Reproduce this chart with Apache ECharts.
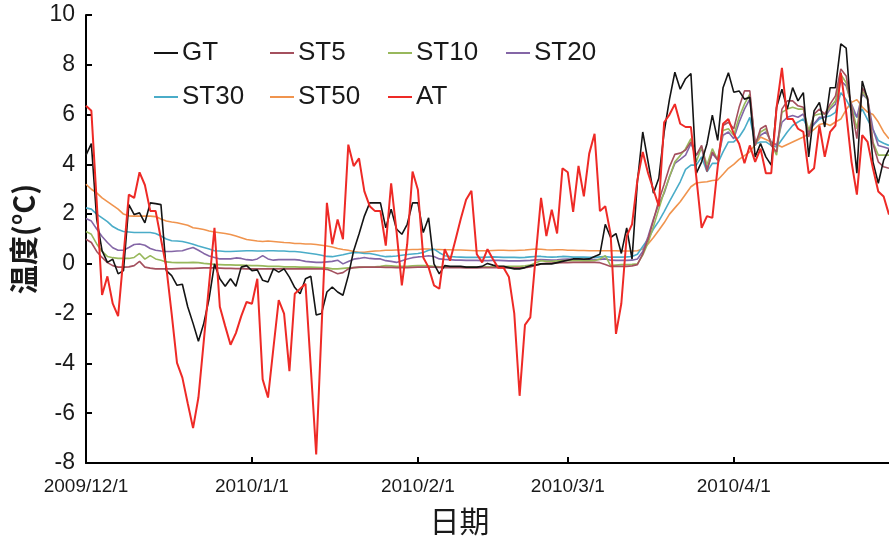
<!DOCTYPE html>
<html>
<head>
<meta charset="utf-8">
<script src="https://cdn.jsdelivr.net/npm/echarts@6/dist/echarts.min.js"></script>
<style>
html,body{margin:0;padding:0;background:#fff;}
#chart{width:889px;height:541px;}
</style>
</head>
<body>
<div id="chart"></div>
<script>
// Daily series from 2009/12/1 to 2010/4/30 (151 days)
const startYear = 2009, startMonth = 12, startDay = 1, dayCount = 151;
const seriesNames = ['GT', 'ST5', 'ST10', 'ST20', 'ST30', 'ST50', 'AT'];
const yTicks = {min: -8, max: 10, step: 2};

const GT = [4.37,4.83,1.8,0.53,0.06,0.19,-0.4,-0.27,2.38,1.98,2.05,1.65,2.45,2.42,2.38,-0.27,-0.47,-0.86,-0.82,-1.72,
-2.39,-3.11,-2.39,-1.39,0.0,-0.6,-0.9,-0.6,-0.9,-0.13,-0.07,-0.27,-0.24,-0.66,-0.73,-0.2,-0.33,-0.2,-0.53,-0.95,
-1.2,-0.6,-0.5,-2.05,-1.99,-1.13,-0.93,-1.13,-1.26,-0.47,0.53,1.2,1.92,2.45,2.45,2.45,1.45,2.2,1.4,1.19,
1.59,2.45,2.45,1.26,1.85,0.0,-0.4,-0.07,-0.1,-0.1,-0.1,-0.13,-0.13,-0.13,-0.1,0.02,-0.05,-0.1,-0.1,-0.15,
-0.2,-0.2,-0.15,-0.07,-0.05,0.0,0.0,0.0,0.05,0.1,0.15,0.2,0.2,0.19,0.2,0.3,0.39,1.59,1.06,1.22,
0.42,1.45,0.19,3.3,5.3,4.1,2.84,3.44,5.3,6.62,7.7,7.02,7.44,7.65,3.64,4.1,4.83,5.98,4.96,7.08,
7.68,6.9,6.95,6.62,6.69,4.3,4.83,4.3,3.97,6.29,7.02,6.22,7.08,6.55,6.88,4.3,6.15,6.49,5.5,7.08,
7.08,8.84,8.67,5.82,3.64,7.35,6.62,4.1,3.24,4.17,4.6];

const ST5 = [0.99,0.86,0.5,0.26,0.05,-0.07,-0.13,-0.13,-0.12,-0.07,0.1,-0.13,-0.17,-0.2,-0.2,-0.2,-0.2,-0.19,-0.18,-0.18,
-0.18,-0.17,-0.16,-0.16,-0.16,-0.17,-0.18,-0.18,-0.19,-0.19,-0.2,-0.2,-0.2,-0.2,-0.2,-0.2,-0.2,-0.2,-0.2,-0.2,
-0.2,-0.2,-0.2,-0.2,-0.2,-0.22,-0.3,-0.4,-0.35,-0.2,-0.15,-0.13,-0.13,-0.13,-0.13,-0.13,-0.14,-0.14,-0.15,-0.15,
-0.15,-0.14,-0.13,-0.13,-0.13,-0.13,-0.14,-0.15,-0.15,-0.15,-0.15,-0.16,-0.16,-0.16,-0.15,-0.15,-0.15,-0.15,-0.16,-0.16,
-0.16,-0.16,-0.15,-0.12,-0.05,0.0,0.02,0.03,0.04,0.05,0.05,0.06,0.06,0.06,0.06,0.06,0.05,-0.02,-0.1,-0.1,
-0.1,-0.1,-0.08,-0.03,0.4,1.0,1.75,2.55,3.2,3.9,4.4,4.45,4.57,4.9,4.37,4.76,3.71,4.5,4.17,5.56,
5.69,5.43,6.29,6.95,6.95,4.76,5.43,5.56,4.76,4.5,6.22,6.55,6.55,6.35,6.29,5.1,6.02,6.22,6.02,6.42,
6.75,7.83,7.55,6.29,5.03,7.08,6.69,4.83,4.1,3.9,3.84];

const ST10 = [1.3,1.19,0.8,0.5,0.3,0.25,0.22,0.22,0.22,0.26,0.42,0.19,0.33,0.2,0.15,0.08,0.06,0.05,0.05,0.05,
0.06,0.05,0.02,0.0,-0.02,-0.03,-0.04,-0.04,-0.05,-0.05,-0.06,-0.07,-0.07,-0.08,-0.1,-0.1,-0.1,-0.12,-0.12,-0.12,
-0.13,-0.13,-0.13,-0.14,-0.15,-0.16,-0.2,-0.2,-0.18,-0.16,-0.15,-0.14,-0.13,-0.13,-0.12,-0.1,-0.07,-0.08,-0.1,-0.1,
-0.1,-0.08,-0.07,-0.07,-0.08,-0.1,-0.12,-0.12,-0.12,-0.12,-0.12,-0.13,-0.13,-0.13,-0.12,-0.12,-0.12,-0.11,-0.11,-0.1,
-0.1,-0.1,-0.08,-0.05,0.05,0.13,0.1,0.1,0.12,0.13,0.13,0.13,0.13,0.12,0.12,0.13,0.2,0.33,-0.07,-0.05,
-0.03,-0.03,-0.02,0.0,0.35,0.85,1.5,2.2,2.9,3.5,4.1,4.35,4.63,5.03,4.1,4.7,3.97,4.63,4.17,5.36,
5.43,5.17,5.89,6.42,6.82,4.76,5.3,5.43,4.83,4.37,6.09,6.22,6.29,6.22,6.22,5.36,5.96,6.02,6.02,6.29,
6.55,7.61,7.28,6.35,5.43,6.95,6.62,4.9,4.37,4.37,4.37];

const ST20 = [1.82,1.72,1.4,1.1,0.86,0.65,0.55,0.55,0.66,0.78,0.8,0.75,0.62,0.55,0.52,0.5,0.5,0.52,0.53,0.6,
0.66,0.55,0.42,0.32,0.26,0.2,0.2,0.2,0.24,0.22,0.17,0.15,0.2,0.33,0.2,0.15,0.17,0.17,0.17,0.17,
0.15,0.1,0.08,0.06,0.06,0.08,0.1,0.15,0.0,0.1,0.19,0.22,0.26,0.22,0.2,0.2,0.13,0.1,0.06,0.13,
0.2,0.25,0.28,0.3,0.33,0.3,0.2,0.18,0.17,0.15,0.15,0.14,0.14,0.14,0.13,0.13,0.14,0.14,0.13,0.12,
0.12,0.12,0.13,0.14,0.16,0.17,0.16,0.15,0.16,0.18,0.19,0.18,0.17,0.16,0.16,0.17,0.18,0.2,0.15,0.14,
0.14,0.14,0.15,0.2,0.5,1.1,1.8,2.4,2.84,3.5,4.04,4.2,4.37,4.83,4.37,4.63,3.84,4.43,4.17,5.17,
5.3,5.03,5.69,6.22,6.62,4.9,5.17,5.3,4.9,4.76,5.69,5.89,5.96,5.89,6.02,5.3,5.63,5.89,5.89,6.22,
6.42,7.35,7.15,6.42,5.89,6.82,6.62,5.43,4.76,4.7,4.63];

const ST30 = [2.25,2.2,2.0,1.85,1.7,1.5,1.38,1.3,1.28,1.26,1.26,1.26,1.26,1.22,1.12,1.0,0.93,0.92,0.9,0.85,
0.79,0.72,0.66,0.6,0.53,0.52,0.5,0.5,0.51,0.52,0.53,0.53,0.52,0.52,0.53,0.53,0.52,0.52,0.5,0.5,
0.48,0.45,0.42,0.39,0.35,0.3,0.29,0.33,0.37,0.42,0.46,0.45,0.42,0.42,0.38,0.33,0.29,0.3,0.32,0.35,
0.38,0.4,0.42,0.46,0.55,0.59,0.45,0.33,0.3,0.28,0.27,0.26,0.26,0.26,0.26,0.27,0.28,0.27,0.26,0.26,
0.26,0.25,0.26,0.28,0.3,0.3,0.28,0.27,0.28,0.3,0.29,0.27,0.27,0.27,0.26,0.26,0.28,0.3,0.27,0.27,
0.27,0.28,0.3,0.39,0.7,1.0,1.4,1.72,2.1,2.51,2.9,3.3,3.8,3.97,3.97,4.3,3.7,4.04,4.04,4.5,
4.9,4.9,5.1,5.43,5.89,4.83,4.9,4.9,4.76,4.7,5.0,5.3,5.56,5.7,5.82,5.36,5.6,5.82,5.89,5.95,
6.09,6.88,6.6,6.2,5.89,6.22,5.8,5.4,4.96,4.85,4.76];

const ST50 = [3.2,3.0,2.85,2.65,2.5,2.35,2.2,2.0,1.93,1.92,1.92,1.92,1.92,1.9,1.8,1.72,1.68,1.65,1.6,1.55,
1.45,1.42,1.38,1.32,1.28,1.25,1.22,1.18,1.12,1.05,0.98,0.95,0.92,0.9,0.92,0.9,0.88,0.86,0.85,0.82,
0.82,0.8,0.8,0.78,0.75,0.72,0.68,0.62,0.58,0.55,0.5,0.47,0.47,0.5,0.52,0.53,0.55,0.55,0.56,0.56,
0.57,0.58,0.58,0.6,0.6,0.58,0.58,0.57,0.57,0.56,0.56,0.55,0.54,0.53,0.53,0.53,0.54,0.55,0.55,0.54,
0.54,0.55,0.56,0.58,0.6,0.59,0.57,0.56,0.57,0.57,0.55,0.55,0.54,0.54,0.53,0.53,0.53,0.53,0.53,0.53,
0.52,0.52,0.52,0.53,0.6,0.8,1.06,1.35,1.65,2.0,2.25,2.5,2.8,3.1,3.25,3.28,3.3,3.35,3.37,3.6,
3.84,4.0,4.2,4.35,4.5,4.8,5.1,5.0,4.9,4.8,4.7,4.8,4.9,5.0,5.1,5.23,5.4,5.6,5.65,5.56,
5.7,5.82,6.2,6.49,6.6,6.3,6.1,6.0,5.7,5.3,5.03];

const AT = [6.35,6.15,2.5,-1.25,-0.5,-1.6,-2.1,0.3,2.78,2.65,3.68,3.17,2.13,2.13,1.0,-0.13,-2.0,-3.98,-4.57,-5.6,
-6.6,-5.37,-3.1,-0.8,1.45,-1.72,-2.5,-3.25,-2.78,-2.1,-1.53,-1.6,-0.6,-4.64,-5.37,-3.4,-1.46,-2.0,-4.31,-1.2,
-1.0,-0.8,-4.2,-7.66,-2.6,2.45,0.79,1.78,0.99,4.79,3.93,4.24,2.91,2.32,2.12,2.12,0.73,3.24,1.32,-0.86,
0.79,3.71,2.98,0.26,-0.14,-0.86,-1.0,0.59,0.13,0.95,1.8,2.58,2.94,0.39,0.06,0.59,0.2,-0.16,-0.16,-0.53,
-1.99,-5.3,-2.45,-2.15,0.3,2.65,1.12,2.18,1.22,3.84,3.68,2.09,3.94,2.71,4.43,5.23,2.12,2.32,1.19,-2.81,
-1.59,1.12,1.59,3.37,4.5,3.64,2.98,2.32,5.69,6.0,6.42,5.63,5.5,5.5,3.5,1.45,1.92,1.85,3.9,5.63,
5.82,5.23,4.83,4.04,4.76,4.1,4.63,3.64,3.64,6.29,7.88,5.82,5.82,5.43,5.3,3.64,3.84,5.56,4.3,5.3,
5.56,7.68,6.09,4.1,2.78,5.17,4.9,3.84,2.91,2.71,1.98];

const seriesData = {GT, ST5, ST10, ST20, ST30, ST50, AT};
const seriesColors = {GT:'#141414', ST5:'#A4505E', ST10:'#98B85C', ST20:'#8466A6', ST30:'#4AACC8', ST50:'#F0944E', AT:'#EE2A26'};

// date categories
const dates = [];
for (let i = 0; i < dayCount; i++) {
  const d = new Date(startYear, startMonth - 1, startDay + i);
  dates.push(d.getFullYear() + '/' + (d.getMonth() + 1) + '/' + d.getDate());
}
const isMonthStart = (idx, val) => /\/1$/.test(val);

const legendPos = {
  GT:[154,40], ST5:[270,40], ST10:[388,40], ST20:[506,40],
  ST30:[154,84], ST50:[270,84], AT:[388,84]
};

const fontLatin = '"Liberation Sans", Arial, Helvetica, sans-serif';
const fontCJK = '"Noto Sans CJK SC", "Noto Sans CJK JP", sans-serif';

const chart = echarts.init(document.getElementById('chart'), null, {renderer: 'canvas'});
chart.setOption({
  animation: false,
  backgroundColor: '#ffffff',
  grid: {left: 86, right: 0, top: 15, bottom: 73, containLabel: false},
  legend: seriesNames.map(n => ({
    data: [n], left: legendPos[n][0], top: legendPos[n][1], padding: 0,
    icon: 'rect', itemWidth: 24, itemHeight: 2, itemGap: 0,
    selectedMode: false,
    textStyle: {fontSize: 26, color: '#1a1a1a', fontFamily: fontLatin, padding: [0, 0, 0, -1]}
  })),
  xAxis: {
    type: 'category', boundaryGap: false, data: dates,
    name: '日期', nameLocation: 'middle', nameGap: 43,
    nameTextStyle: {fontSize: 30, color: '#1a1a1a', fontFamily: fontCJK, padding: [0, 56, 0, 0]},
    axisLine: {onZero: false, lineStyle: {color: '#000', width: 2}},
    axisTick: {inside: true, length: 6, interval: isMonthStart, lineStyle: {color: '#000', width: 2}},
    axisLabel: {interval: isMonthStart, fontSize: 19, color: '#1a1a1a', margin: 14, fontFamily: fontLatin},
    splitLine: {show: false}
  },
  yAxis: {
    type: 'value', min: yTicks.min, max: yTicks.max, interval: yTicks.step,
    name: '温度(°C)', nameLocation: 'middle', nameGap: 48,
    nameTextStyle: {fontSize: 29, fontWeight: 'bold', color: '#1a1a1a', fontFamily: fontCJK},
    axisLine: {show: true, onZero: false, lineStyle: {color: '#000', width: 2}},
    axisTick: {show: true, inside: true, length: 6, lineStyle: {color: '#000', width: 2}},
    axisLabel: {fontSize: 23, color: '#1a1a1a', margin: 11, fontFamily: fontLatin},
    splitLine: {show: false}
  },
  series: seriesNames.map((n, i) => ({
    name: n, type: 'line', data: seriesData[n],
    showSymbol: false, symbol: 'none',
    color: seriesColors[n],
    lineStyle: {color: seriesColors[n], width: n === 'AT' ? 2 : 1.6},
    z: n === 'AT' ? 9 : (n === 'GT' ? 8 : 2 + (6 - i))
  }))
});
</script>
</body>
</html>
